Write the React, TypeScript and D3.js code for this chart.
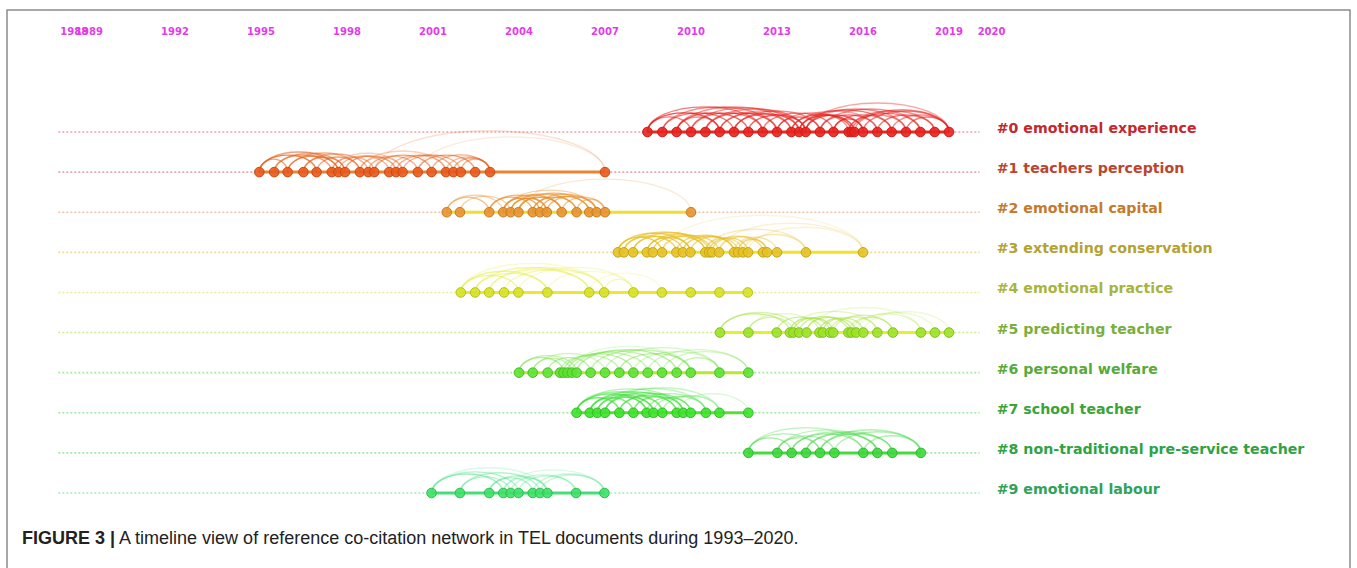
import React from "react";
import * as d3 from "d3";

const axisYears = [1988, 1989, 1992, 1995, 1998, 2001, 2004, 2007, 2010, 2013, 2016, 2019, 2020];

const clusterLabels = [
  "#0 emotional experience",
  "#1 teachers perception",
  "#2 emotional capital",
  "#3 extending conservation",
  "#4 emotional practice",
  "#5 predicting teacher",
  "#6 personal welfare",
  "#7 school teacher",
  "#8 non-traditional pre-service teacher",
  "#9 emotional labour",
];

const c0Years = [2008.48, 2009.0, 2009.5, 2010.0, 2010.5, 2011.0, 2011.5, 2012.0, 2012.5, 2013.0, 2013.5, 2013.77, 2014.0, 2014.5, 2014.97, 2015.5, 2015.6, 2015.7, 2016.0, 2016.5, 2017.0, 2017.5, 2018.0, 2018.5, 2019.0];
const c1Years = [1994.94, 1995.46, 1995.93, 1996.48, 1996.94, 1997.47, 1997.7, 1997.93, 1998.45, 1998.74, 1998.95, 1999.47, 1999.71, 1999.94, 2000.47, 2000.95, 2001.45, 2001.71, 2001.97, 2002.47, 2002.99, 2007.0];
const c2Years = [2001.48, 2001.94, 2002.96, 2003.45, 2003.71, 2003.98, 2004.48, 2004.73, 2004.97, 2005.49, 2006.01, 2006.45, 2006.71, 2007.0, 2010.0];
const c3Years = [2007.45, 2007.66, 2007.98, 2008.46, 2008.67, 2008.99, 2009.49, 2009.72, 2009.98, 2010.5, 2010.63, 2010.73, 2010.98, 2011.5, 2011.64, 2011.81, 2011.99, 2012.51, 2012.65, 2013.0, 2014.01, 2016.0];
const c4Years = [2001.97, 2002.47, 2002.96, 2003.48, 2003.98, 2004.99, 2006.45, 2006.97, 2007.99, 2008.98, 2009.99, 2010.99, 2011.98];
const c5Years = [2011.01, 2012.0, 2012.99, 2013.45, 2013.57, 2013.77, 2014.03, 2014.48, 2014.6, 2014.85, 2014.96, 2015.49, 2015.6, 2015.76, 2016.01, 2016.5, 2017.04, 2018.02, 2018.51, 2019.0];
const c6Years = [2004.0, 2004.48, 2005.0, 2005.43, 2005.55, 2005.69, 2005.84, 2006.01, 2006.5, 2007.0, 2007.5, 2007.99, 2008.49, 2008.99, 2009.5, 2009.99, 2010.99, 2012.0];
const c7Years = [2006.01, 2006.47, 2006.73, 2007.0, 2007.5, 2007.99, 2008.45, 2008.69, 2009.0, 2009.5, 2009.73, 2009.99, 2010.52, 2010.99, 2012.0];
const c8Years = [2012.0, 2013.01, 2013.51, 2014.01, 2014.5, 2015.0, 2016.01, 2016.5, 2017.02, 2018.02];
const c9Years = [2000.95, 2001.94, 2002.96, 2003.45, 2003.71, 2003.98, 2004.48, 2004.73, 2004.99, 2005.99, 2006.98];

// links: [fromIndex, toIndex, strength]
const c0Links = [[0,5,.8],[0,8,.6],[1,6,.6],[1,9,.5],[2,7,.7],[2,10,.5],[3,8,.6],[3,11,.5],[4,9,.7],[4,12,.5],[5,10,.6],[6,13,.5],[7,12,.7],[8,14,.6],[9,15,.5],[10,16,.7],[11,17,.8],[11,20,.6],[12,18,.7],[12,21,.5],[13,19,.6],[13,22,.5],[14,20,.6],[15,23,.5],[16,22,.6],[17,24,.5],[18,24,.6],[19,23,.6],[20,24,.5],[6,11,.7],[9,13,.6],[2,5,.5],[21,24,.6],[10,19,.4],[12,24,.4],[0,3,.6],[5,12,.4],[14,18,.8],[15,21,.5]];
const c1Links = [[0,4,.8],[0,6,.6],[1,5,.6],[1,7,.5],[2,6,.7],[2,8,.5],[3,7,.6],[3,9,.5],[4,8,.6],[5,10,.5],[6,11,.5],[7,12,.6],[8,13,.4],[9,14,.5],[10,15,.6],[11,16,.4],[12,17,.5],[13,18,.5],[14,19,.6],[15,20,.5],[16,20,.4],[5,13,.3],[8,16,.3],[10,21,.2],[14,21,.15],[0,2,.6],[17,20,.5],[18,20,.5]];
const c2Links = [[0,2,.5],[0,3,.4],[1,4,.4],[2,6,.7],[2,8,.6],[3,7,.8],[3,9,.7],[4,8,.8],[4,10,.6],[5,9,.8],[5,11,.6],[6,10,.7],[6,12,.6],[7,11,.7],[8,12,.6],[9,13,.5],[10,13,.5],[5,14,.2],[3,12,.4]];
const c3Links = [[0,5,.8],[0,8,.7],[1,6,.7],[1,9,.6],[2,7,.7],[2,10,.6],[3,8,.7],[3,11,.6],[4,9,.7],[5,12,.6],[6,13,.6],[7,13,.7],[8,14,.6],[9,15,.5],[10,16,.6],[11,17,.5],[12,18,.5],[13,19,.4],[14,18,.6],[9,20,.3],[12,21,.2],[5,21,.15],[15,20,.35],[16,21,.2]];
const c4Links = [[0,4,.55],[0,5,.55],[1,5,.45],[1,6,.45],[2,6,.35],[2,7,.35],[3,7,.35],[4,8,.25],[5,8,.25],[6,9,.2],[0,7,.25],[7,8,.35]];
const c5Links = [[0,3,.5],[0,5,.4],[1,4,.4],[1,7,.3],[2,8,.5],[3,9,.5],[4,10,.6],[5,11,.5],[6,12,.6],[7,13,.5],[8,14,.5],[9,15,.4],[10,16,.4],[11,16,.4],[12,17,.3],[3,15,.3],[6,17,.2],[13,18,.2],[14,19,.2]];
const c6Links = [[0,4,.5],[0,7,.4],[1,6,.4],[1,9,.3],[2,8,.5],[3,10,.4],[4,11,.5],[5,12,.4],[6,13,.4],[7,14,.5],[8,15,.4],[9,16,.3],[10,15,.5],[11,16,.3],[12,17,.3],[13,17,.3],[14,16,.4],[5,15,.2]];
const c7Links = [[0,4,.7],[0,6,.6],[0,8,.5],[1,5,.6],[1,7,.6],[1,9,.5],[2,6,.6],[2,8,.5],[3,7,.6],[3,10,.5],[4,9,.6],[4,11,.5],[5,10,.5],[5,12,.4],[6,11,.5],[7,12,.4],[8,13,.4],[0,10,.4],[2,12,.3],[9,14,.2],[3,13,.3]];
const c8Links = [[0,2,.5],[0,4,.4],[1,4,.4],[1,5,.4],[2,6,.5],[2,7,.4],[3,7,.5],[3,8,.4],[4,8,.5],[4,9,.4],[5,9,.4],[6,9,.4],[1,7,.3],[0,6,.3]];
const c9Links = [[0,3,.5],[0,5,.4],[1,4,.4],[1,7,.4],[2,6,.4],[2,8,.4],[3,8,.3],[4,9,.3],[5,9,.3],[6,10,.3],[7,10,.3],[3,10,.2],[0,8,.2]];

const clusterYears = [c0Years, c1Years, c2Years, c3Years, c4Years, c5Years, c6Years, c7Years, c8Years, c9Years];
const clusterLinks = [c0Links, c1Links, c2Links, c3Links, c4Links, c5Links, c6Links, c7Links, c8Links, c9Links];

const nodeFill = ["#e8231f", "#e85a1c", "#e8922e", "#e6c224", "#d6e222", "#9ce226", "#5ee232", "#3ee22c", "#3ed83c", "#3ee066"];
const nodeStroke = ["#cf1a18", "#cc4a12", "#c97a22", "#c7a41a", "#b5c01a", "#7cc01c", "#42c024", "#2cc020", "#2cbc30", "#2cc052"];
const trackColor = ["#e82a24", "#e98532", "#f1dc30", "#f2e22a", "#ece82a", "#e6f02a", "#b4ea30", "#56e234", "#46da3c", "#44e074"];
const arcColor = ["#e8231f", "#e8641e", "#e8902c", "#e8be22", "#e4ee3c", "#a4e23a", "#72e240", "#40e03a", "#44d844", "#44e080"];
const dotColor = ["#eaa2aa", "#eaa8ac", "#f0c0a8", "#f2da94", "#eaf088", "#c6f08a", "#a8eaa0", "#a4e8a4", "#a4e8a8", "#a4ecb8"];
const labelColor = ["#c2282e", "#bb4630", "#c47a2e", "#b4a232", "#a8b43e", "#7cae3a", "#58aa3a", "#3aa43a", "#30a242", "#30a25a"];

export default function App() {
  const W = 1357;
  const H = 568;
  const x = d3.scaleLinear().domain([1995, 2019]).range([261, 949]);
  const y = d3.scalePoint<number>().domain(d3.range(10)).range([132, 493]);
  const lineStart = x(1988) - 2;
  const lineEnd = x(2020) + 2;
  const labelX = x(2020) + 19;
  const arcH = (span: number) => Math.min(span * 0.5, 9 + span * 0.14);

  return (
    <svg width={W} height={H} style={{ position: "absolute", left: 0, top: 0, background: "#fff" }}>
      <rect x={7} y={10} width={1343} height={600} fill="none" stroke="#8c8c8c" strokeWidth={1.5} />
      {axisYears.map((yr, i) => (
        <text
          key={yr}
          x={x(yr)}
          y={35}
          textAnchor={i === 0 || i === axisYears.length - 1 ? "start" : "middle"}
          fontFamily="DejaVu Sans"
          fontWeight="bold"
          fontSize={10}
          fill="#e23ce8"
        >
          {yr}
        </text>
      ))}
      {clusterYears.map((yrs, ci) => {
        const cy = y(ci) as number;
        const xs = yrs.map((v) => x(v));
        return (
          <g key={ci}>
            <line x1={lineStart} x2={lineEnd} y1={cy} y2={cy} stroke={dotColor[ci]} strokeWidth={1.6} strokeDasharray="2 2" />
            <line x1={d3.min(xs)} x2={d3.max(xs)} y1={cy} y2={cy} stroke={trackColor[ci]} strokeWidth={3} />
            {clusterLinks[ci].map(([a, b, w], li) => {
              const x1 = xs[a];
              const x2 = xs[b];
              const span = Math.abs(x2 - x1);
              const h = arcH(span);
              return (
                <path
                  key={li}
                  d={`M${x1},${cy} A${span / 2},${h} 0 0 1 ${x2},${cy}`}
                  fill="none"
                  stroke={arcColor[ci]}
                  strokeOpacity={w}
                  strokeWidth={1.4}
                />
              );
            })}
            {xs.map((px, ni) => (
              <circle key={ni} cx={px} cy={cy} r={4.8} fill={nodeFill[ci]} stroke={nodeStroke[ci]} strokeWidth={1} fillOpacity={0.9} />
            ))}
            <text x={labelX} y={cy + 1} fontFamily="DejaVu Sans" fontWeight="bold" fontSize={14.2} fill={labelColor[ci]}>
              {clusterLabels[ci]}
            </text>
          </g>
        );
      })}
      <text x={22} y={544} fontFamily="'Liberation Sans', Arial, sans-serif" fontSize={18} fill="#222">
        <tspan fontWeight="bold">FIGURE 3 |</tspan>
        <tspan> A timeline view of reference co-citation network in TEL documents during 1993–2020.</tspan>
      </text>
    </svg>
  );
}
